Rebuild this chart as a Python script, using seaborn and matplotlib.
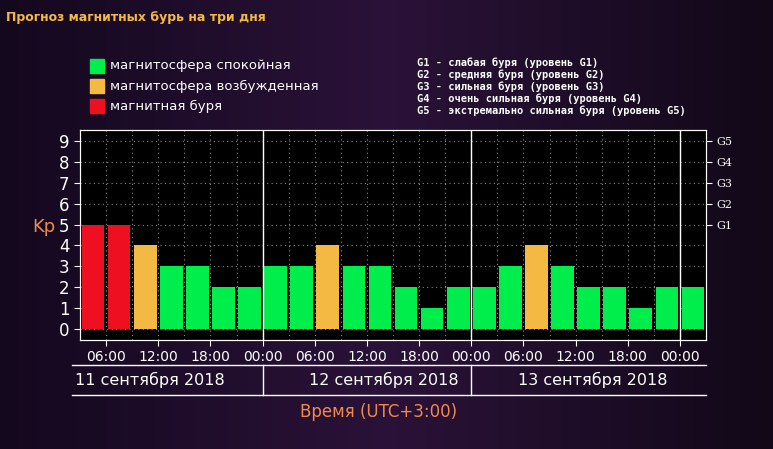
import numpy as np
import pandas as pd
import matplotlib
matplotlib.use("Agg")
import matplotlib.pyplot as plt
import seaborn as sns

kp = [5, 5, 4, 3, 3, 2, 2,
      3, 3, 4, 3, 3, 2, 1, 2,
      2, 3, 4, 3, 2, 2, 1, 2, 2]
hours = [3 * i + 4.5 for i in range(len(kp))]  # bar centres, hours from 11 Sep 00:00
tick_hours = [6, 12, 18, 24, 30, 36, 42, 48, 54, 60, 66, 72]
tick_labels = ["06:00", "12:00", "18:00", "00:00"] * 3
days = ["11 сентября 2018", "12 сентября 2018", "13 сентября 2018"]
g_levels = ["G1", "G2", "G3", "G4", "G5"]
g_notes = ["G1 - слабая буря (уровень G1)", "G2 - средняя буря (уровень G2)",
           "G3 - сильная буря (уровень G3)", "G4 - очень сильная буря (уровень G4)",
           "G5 - экстремально сильная буря (уровень G5)"]
legend_items = [("магнитосфера спокойная", "#00ee4c"),
                ("магнитосфера возбужденная", "#f4b943"),
                ("магнитная буря", "#ee1020")]


def colour(v):
    return "#ee1020" if v >= 5 else ("#f4b943" if v == 4 else "#00ee4c")


df = pd.DataFrame({"h": hours, "kp": kp})
df["c"] = df["kp"].map(colour)

fig = plt.figure(figsize=(7.73, 4.49), dpi=100)
bg = fig.add_axes([0, 0, 1, 1])
grad = np.linspace(0, 1, 256)[None, :]
bg.imshow(np.vstack([grad] * 2), aspect="auto", extent=[0, 1, 0, 1],
          cmap=matplotlib.colors.LinearSegmentedColormap.from_list("bg", ["#14081e", "#2a1238", "#120818"]))
bg.axis("off")

ax = fig.add_axes([80 / 773, 1 - 340 / 449, 626 / 773, 210 / 449])
ax.set_facecolor("black")
ax.bar(df["h"], df["kp"], width=2.6, color=df["c"], bottom=0)
ax.set_xlim(3, 75)
ax.set_ylim(-0.55, 9.55)
for y in range(10):
    ax.axhline(y, color="#888888", ls=(0, (1, 3)), lw=0.8, zorder=0)
for x in range(3, 75, 3):
    ax.axvline(x, color="#888888", ls=(0, (1, 3)), lw=0.8, zorder=0)
for x in [24, 48, 72]:
    ax.axvline(x, color="white", lw=1)
ax.set_yticks(range(10))
ax.set_yticklabels([str(i) for i in range(10)], color="white", fontsize=12)
ax.set_xticks(tick_hours)
ax.set_xticklabels(tick_labels, color="white", fontsize=10)
ax.tick_params(colors="white", length=4)
for s in ax.spines.values():
    s.set_color("white")
ax2 = ax.twinx()
ax2.set_ylim(ax.get_ylim())
ax2.set_yticks(range(5, 10))
ax2.set_yticklabels(g_levels, color="white", fontsize=8, fontfamily="DejaVu Serif")
ax2.tick_params(colors="white", length=4)
for s in ax2.spines.values():
    s.set_color("white")
sns.despine(ax=ax, top=False, right=False)

fig.text(44 / 773, 1 - 227 / 449, "Kp", color="#f08a4b", fontsize=13,
         ha="center", va="center")

# date strip
tr = ax.get_xaxis_transform()
ax.plot([2.1, 75], [-0.12, -0.12], transform=tr, color="white", lw=1, clip_on=False)
ax.plot([2.1, 75], [-0.26, -0.26], transform=tr, color="white", lw=1, clip_on=False)
for x in [24, 48]:
    ax.plot([x, x], [-0.12, -0.26], transform=tr, color="white", lw=1, clip_on=False)
for i, d in enumerate(days):
    ax.text(12 + 24 * i + (2 if i else -1), -0.19, d, transform=tr, color="white",
            fontsize=11.5, ha="center", va="center")
fig.text(0.49, 1 - 412 / 449, "Время (UTC+3:00)", color="#f08a4b", fontsize=12, ha="center", va="center")

fig.text(6 / 773, 1 - 18 / 449, "Прогноз магнитных бурь на три дня", color="#f4b943",
         fontsize=9, fontweight="bold", va="center")
for i, (lab, c) in enumerate(legend_items):
    y = 1 - (66 + 20 * i) / 449
    fig.patches.append(plt.Rectangle((90 / 773, y - 7 / 449), 14 / 773, 14 / 449,
                                     color=c, transform=fig.transFigure))
    fig.text(110 / 773, y, lab, color="white", fontsize=9.5, va="center")
for i, t in enumerate(g_notes):
    fig.text(417 / 773, 1 - (63 + 12 * i) / 449, t, color="white", fontsize=7.5,
             va="center", fontfamily="DejaVu Sans Mono", fontweight="bold")

fig.savefig("out.png", dpi=100, facecolor=fig.get_facecolor())
